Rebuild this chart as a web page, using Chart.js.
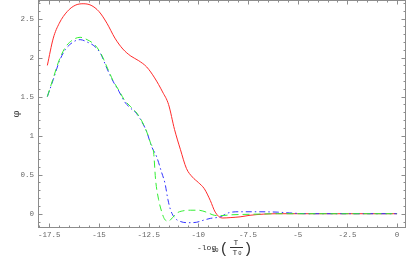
<!DOCTYPE html>
<html><head><meta charset="utf-8">
<script src="https://cdn.jsdelivr.net/npm/chart.js@4/dist/chart.umd.min.js"></script>
<style>html,body{margin:0;padding:0;background:#fff}#wrap{width:415px;height:257px}</style>
</head><body><div id="wrap"><canvas id="c" width="415" height="257"></canvas></div>
<script>
// ---- data ----
const redX = [-17.6,-17.3,-17.0,-16.6,-16.2,-15.8,-15.4,-15.0,-14.6,-14.2,-13.8,-13.4,-13.0,-12.6,-12.2,-11.8,-11.5,-11.2,-10.9,-10.6,-10.3,-10.0,-9.7,-9.4,-9.15,-8.8,-8.4,-7.9,-7.4,-6.7,-6.0,-5.0,-4.0,-3.0,-2.0,-1.0,0];
const redY = [1.90,2.25,2.44,2.59,2.67,2.69,2.67,2.59,2.44,2.25,2.11,2.02,1.96,1.88,1.74,1.56,1.40,1.08,0.82,0.58,0.47,0.40,0.32,0.17,0.02,-0.055,-0.05,-0.04,-0.02,-0.005,0,0,0,0,0,0,0];

const blueX = [-17.6,-17.3,-17.0,-16.7,-16.3,-15.95,-15.6,-15.2,-14.9,-14.6,-14.3,-14.0,-13.7,-13.4,-13.1,-12.85,-12.6,-12.35,-12.1,-11.85,-11.68,-11.53,-11.4,-11.2,-10.9,-10.5,-10.1,-9.7,-9.4,-8.9,-8.5,-8.0,-7.0,-6.0,-5.4,-4.5,-3.0,-1.5,0];
const blueY = [1.50,1.72,1.95,2.10,2.20,2.23,2.20,2.14,2.04,1.86,1.70,1.57,1.43,1.35,1.28,1.18,1.05,0.86,0.73,0.53,0.39,0.18,0.05,-0.05,-0.10,-0.115,-0.11,-0.08,-0.06,-0.04,0.01,0.025,0.025,0.02,0.01,0,0,0,0];

const greenX = [-17.6,-17.3,-17.0,-16.7,-16.3,-15.95,-15.6,-15.2,-14.9,-14.6,-14.3,-14.0,-13.7,-13.4,-13.1,-12.85,-12.6,-12.4,-12.25,-12.15,-12.0,-11.85,-11.7,-11.5,-11.3,-11.07,-10.7,-10.4,-10.0,-9.6,-9.2,-8.9,-8.4,-7.9,-7.0,-6.0,-4.5,-3.0,-1.5,0];
const greenY = [1.50,1.74,1.97,2.13,2.23,2.26,2.23,2.16,2.05,1.88,1.71,1.58,1.45,1.37,1.29,1.19,1.05,0.90,0.78,0.43,0.18,0.03,-0.07,-0.095,-0.05,0.01,0.04,0.045,0.045,0.02,-0.02,-0.025,-0.015,-0.01,-0.005,0,0,0,0,0];

const xTicks = [-17.5,-15,-12.5,-10,-7.5,-5,-2.5,0];
const yTicks = [0,0.5,1,1.5,2,2.5];
const yTitle = 'φ';
// ---------------------------------------

const pts = (xs, ys) => xs.map((x, i) => ({x, y: ys[i]}));
const MONO = "'Liberation Mono', monospace";

const framePlugin = {
  id: 'frame',
  afterDraw(chart) {
    const {ctx, chartArea: a, scales: {x, y}} = chart;
    ctx.save();
    ctx.strokeStyle = '#8c8c8c';
    ctx.lineWidth = 1;
    const L = Math.round(a.left) + 0.5, R = Math.round(a.right) - 0.5;
    const T = Math.round(a.top) + 0.5, B = Math.round(a.bottom) - 0.5;
    ctx.strokeRect(L, T, R - L, B - T);
    ctx.beginPath();
    for (let v = -18; v <= 0.01; v += 0.5) {
      const px = Math.round(x.getPixelForValue(v)) + 0.5;
      const major = xTicks.some(t => Math.abs(t - v) < 1e-6);
      const len = major ? 4 : 2;
      ctx.moveTo(px, B); ctx.lineTo(px, B - len);
      ctx.moveTo(px, T); ctx.lineTo(px, T + len);
    }
    for (let k = -1; k <= 27; k++) {
      const v = k / 10;
      const py = Math.round(y.getPixelForValue(v)) + 0.5;
      const major = yTicks.some(t => Math.abs(t - v) < 1e-6);
      const len = major ? 4 : 2;
      ctx.moveTo(L, py); ctx.lineTo(L + len, py);
      ctx.moveTo(R, py); ctx.lineTo(R - len, py);
    }
    ctx.stroke();

    // x axis title: -log10(T/T0)
    const cx = (a.left + a.right) / 2;
    ctx.fillStyle = '#333';
    ctx.textBaseline = 'middle';
    ctx.textAlign = 'left';
    ctx.font = "8px " + MONO;
    ctx.fillText('-log', cx - 25, 248);
    ctx.font = "5.5px " + MONO;
    ctx.fillText('10', cx - 10, 250.5);
    ctx.font = "15px " + MONO;
    ctx.textAlign = 'center';
    ctx.fillText('(', cx + 2, 249.5);
    ctx.fillText(')', cx + 26, 249.5);
    ctx.font = "8px " + MONO;
    ctx.fillText('T', cx + 14, 242.5);
    ctx.fillText('T', cx + 13, 252.5);
    ctx.font = "5.5px " + MONO;
    ctx.fillText('0', cx + 18, 254);
    ctx.strokeStyle = '#333';
    ctx.beginPath();
    ctx.moveTo(cx + 8, 247.5); ctx.lineTo(cx + 21, 247.5);
    ctx.stroke();
    ctx.restore();
  }
};

new Chart(document.getElementById('c'), {
  type: 'line',
  data: {
    datasets: [
      {data: pts(greenX, greenY), borderColor: '#33ee33', borderDash: [7, 4], borderWidth: 1, pointRadius: 0, cubicInterpolationMode: 'monotone', fill: false},
      {data: pts(blueX, blueY), borderColor: '#3333ff', borderDash: [6, 3, 1.5, 3], borderWidth: 1, pointRadius: 0, cubicInterpolationMode: 'monotone', fill: false},
      {data: pts(redX, redY), borderColor: '#ff2a2a', borderWidth: 1, pointRadius: 0, cubicInterpolationMode: 'monotone', fill: false}
    ]
  },
  options: {
    responsive: false,
    animation: false,
    devicePixelRatio: 1,
    layout: {padding: {top: 0, right: 9, left: 0, bottom: 0}},
    plugins: {legend: {display: false}, tooltip: {enabled: false}},
    scales: {
      x: {
        type: 'linear', min: -18.07, max: 0.45,
        afterBuildTicks: s => { s.ticks = xTicks.map(v => ({value: v})); },
        afterFit: s => { s.height = 29; s.paddingLeft = 0; s.paddingRight = 0; },
        grid: {display: false, drawTicks: false, tickLength: 0}, border: {display: false},
        ticks: {autoSkip: false, maxRotation: 0, padding: 3, color: '#666',
          font: {family: MONO, size: 7.5}, callback: v => String(v)}
      },
      y: {
        type: 'linear', min: -0.183, max: 2.738,
        afterBuildTicks: s => { s.ticks = yTicks.map(v => ({value: v})); },
        afterFit: s => { s.width = 38; s.paddingTop = 0; s.paddingBottom = 0; },
        grid: {display: false, drawTicks: false, tickLength: 0}, border: {display: false},
        title: {display: true, text: yTitle, color: '#444', font: {size: 10, family: "'DejaVu Serif', serif"}, padding: {top: 10, bottom: 0}},
        ticks: {autoSkip: false, padding: 4, color: '#666',
          font: {family: MONO, size: 7.5}, callback: v => String(v)}
      }
    }
  },
  plugins: [framePlugin]
});
</script>
</body></html>
